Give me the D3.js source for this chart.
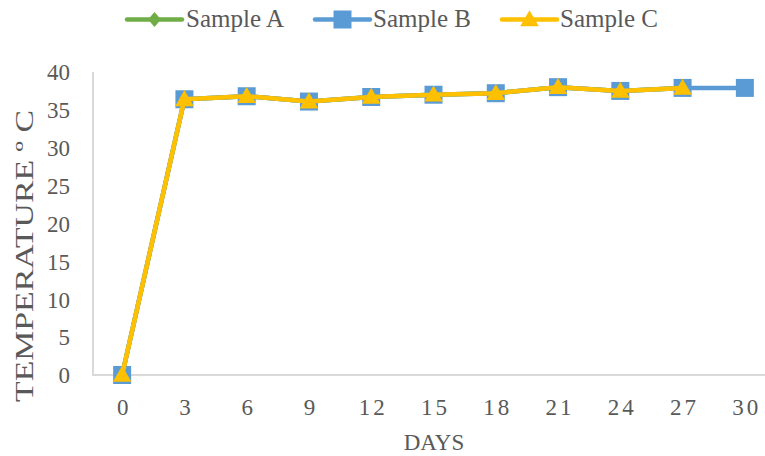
<!DOCTYPE html>
<html>
<head>
<meta charset="utf-8">
<script src="https://cdn.jsdelivr.net/npm/d3@7"></script>
<style>
  html, body { margin: 0; padding: 0; background: #fff; }
  svg { display: block; }
  text { font-family: "Liberation Serif", "DejaVu Serif", serif; fill: #595959; }
</style>
</head>
<body>
<svg id="chart" width="765" height="456"></svg>
<script>
// Days of measurement
const days = ["0", "3", "6", "9", "12", "15", "18", "21", "24", "27", "30"];
// Temperature readings (°C) per sample
const sampleA = [0, 36.4, 36.8, 36.1, 36.7, 37.0, 37.2, 38.0, 37.5, 37.9, null];
const sampleB = [0, 36.4, 36.8, 36.1, 36.7, 37.0, 37.2, 38.0, 37.5, 37.9, 37.9];
const sampleC = [0, 36.4, 36.8, 36.1, 36.7, 37.0, 37.2, 38.0, 37.5, 37.9, null];
const yTicks = [0, 5, 10, 15, 20, 25, 30, 35, 40];

const series = [
  { name: "Sample A", values: sampleA, color: "#70AD47", marker: "diamond" },
  { name: "Sample B", values: sampleB, color: "#5B9BD5", marker: "square" },
  { name: "Sample C", values: sampleC, color: "#FFC000", marker: "triangle" }
];

const svg = d3.select("#chart");

const x = d3.scalePoint().domain(days).range([91, 776]).padding(0.5);
const y = d3.scaleLinear().domain([0, 40]).range([375, 72]);

// Axis lines
svg.append("line").attr("x1", 93).attr("x2", 93).attr("y1", y(40)).attr("y2", y(0))
  .attr("stroke", "#d9d9d9").attr("stroke-width", 2);
svg.append("line").attr("x1", 92).attr("x2", 776).attr("y1", y(0)).attr("y2", y(0))
  .attr("stroke", "#d9d9d9").attr("stroke-width", 2);

// Y tick labels
const yAxis = d3.axisLeft(y).tickValues(yTicks).tickSize(0).tickPadding(0);
const yG = svg.append("g").attr("transform", "translate(70,0)").call(yAxis);
yG.select(".domain").remove();
yG.selectAll("text").attr("font-size", 23).attr("fill", "#595959")
  .style("font-family", "'Liberation Serif', serif").attr("dy", "0.34em").attr("x", 0);

// X tick labels
const xAxis = d3.axisBottom(x).tickSize(0).tickPadding(0);
const xG = svg.append("g").attr("transform", "translate(0,399)").call(xAxis);
xG.select(".domain").remove();
xG.selectAll("text").attr("font-size", 23).attr("fill", "#595959")
  .style("font-family", "'Liberation Serif', serif").attr("dy", "0.71em")
  .attr("letter-spacing", 3).attr("dx", 1.5);

// Axis titles
svg.append("text").attr("x", 434).attr("y", 450).attr("text-anchor", "middle")
  .attr("font-size", 23).text("DAYS");
svg.append("text").attr("transform", "translate(33,256) rotate(-90)")
  .attr("text-anchor", "middle").attr("font-size", 25)
  .attr("textLength", 292).attr("lengthAdjust", "spacingAndGlyphs")
  .text("TEMPERATURE º C");

// Marker shapes
const diamond = {
  draw(ctx) {
    ctx.moveTo(0, -7.5); ctx.lineTo(6.5, 0); ctx.lineTo(0, 7.5); ctx.lineTo(-6.5, 0); ctx.closePath();
  }
};
const symbolFor = {
  diamond: d3.symbol().type(diamond),
  square: d3.symbol().type(d3.symbolSquare).size(324),
  triangle: d3.symbol().type(d3.symbolTriangle).size(150)
};

const line = d3.line()
  .defined(d => d.v !== null)
  .x(d => x(d.day))
  .y(d => y(d.v));

series.forEach(s => {
  const pts = days.map((day, i) => ({ day, v: s.values[i] }));
  const g = svg.append("g");
  g.append("path").datum(pts).attr("d", line)
    .attr("fill", "none").attr("stroke", s.color).attr("stroke-width", 4.5)
    .attr("stroke-linejoin", "round").attr("stroke-linecap", "round");
  g.selectAll("path.m").data(pts.filter(d => d.v !== null)).enter()
    .append("path").attr("class", "m")
    .attr("d", symbolFor[s.marker])
    .attr("transform", d => `translate(${x(d.day)},${y(d.v) + (s.marker === "triangle" ? 1.5 : 0)})`)
    .attr("fill", s.color);
});

// Legend
const legendPos = [
  { x1: 127, x2: 182, tx: 186 },
  { x1: 315, x2: 370, tx: 373 },
  { x1: 502, x2: 557, tx: 560 }
];
series.forEach((s, i) => {
  const p = legendPos[i];
  const g = svg.append("g");
  g.append("line").attr("x1", p.x1).attr("x2", p.x2).attr("y1", 19.5).attr("y2", 19.5)
    .attr("stroke", s.color).attr("stroke-width", 4.5).attr("stroke-linecap", "round");
  g.append("path").attr("d", symbolFor[s.marker])
    .attr("transform", `translate(${(p.x1 + p.x2) / 2},${s.marker === "triangle" ? 21 : 19.5})`)
    .attr("fill", s.color);
  g.append("text").attr("x", p.tx).attr("y", 27).attr("font-size", 25)
    .attr("textLength", 98).attr("lengthAdjust", "spacingAndGlyphs").text(s.name);
});
</script>
</body>
</html>
